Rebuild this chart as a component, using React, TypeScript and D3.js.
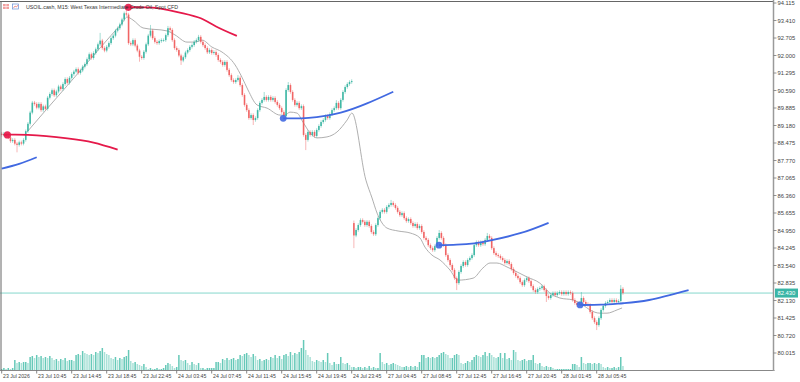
import React from "react";
import * as d3 from "d3";

const title = "USOIL.cash, M15:  West Texas Intermediate Crude Oil, Spot CFD";

const timeLabels = [
  "23 Jul 2026", "23 Jul 10:45", "23 Jul 14:45", "23 Jul 18:45", "23 Jul 22:45",
  "24 Jul 03:45", "24 Jul 07:45", "24 Jul 11:45", "24 Jul 15:45", "24 Jul 19:45",
  "24 Jul 23:45", "27 Jul 04:45", "27 Jul 08:45", "27 Jul 12:45", "27 Jul 16:45",
  "27 Jul 20:45", "28 Jul 01:45", "28 Jul 05:45",
];
const timeLabelBars = [0, 16, 32, 48, 64, 80, 96, 112, 128, 144, 160, 176, 192, 208, 224, 240, 256, 272];

const priceTicks = [
  94.115, 93.41, 92.705, 92.0, 91.295, 90.59, 89.885, 89.18, 88.475, 87.77, 87.065,
  86.36, 85.655, 84.95, 84.245, 83.54, 82.835, 82.13, 81.425, 80.72, 80.015,
];

const firstOpen = 88.85;
const gapBar = 161;
const gapOpen = 85.25;

const closes = [
  88.80, 88.85, 88.75, 88.70, 88.55, 88.60, 88.45, 88.40, 88.50, 88.45,
  88.60, 88.95, 89.25, 89.70, 90.10, 90.05, 89.90, 90.05, 89.80, 89.95,
  89.85, 90.30, 90.45, 90.60, 90.40, 90.55, 90.75, 90.65, 90.85, 91.05,
  90.90, 91.10, 91.25, 91.35, 91.45, 91.30, 91.40, 91.55, 91.65, 91.85,
  92.05, 91.90, 92.10, 92.25, 92.45, 92.60, 92.30, 92.20, 92.35, 92.50,
  92.70, 92.80, 93.00, 93.10, 93.25, 93.45, 93.70, 93.65, 92.50, 92.45,
  92.62, 92.40, 92.20, 91.95, 91.90, 92.15, 92.45, 92.80, 93.00, 92.70,
  92.55, 92.50, 92.58, 92.62, 92.62, 92.82, 93.10, 93.03, 92.62, 92.30,
  92.22, 92.00, 91.80, 91.93, 92.12, 92.22, 92.35, 92.42, 92.55, 92.62,
  92.75, 92.55, 92.42, 92.30, 92.13, 92.22, 92.10, 92.14, 92.02, 91.82,
  91.74, 91.62, 91.74, 91.42, 91.21, 91.01, 90.93, 91.01, 91.10, 90.81,
  90.41, 90.01, 89.80, 89.48, 89.60, 89.40, 89.48, 89.80, 90.09, 90.21,
  90.33, 90.21, 90.33, 90.21, 90.29, 90.13, 90.01, 89.88, 89.72, 89.56,
  90.61, 90.81, 90.53, 90.21, 90.01, 90.09, 89.88, 89.96, 88.80, 88.60,
  88.92, 88.80, 88.92, 88.76, 89.00, 89.16, 89.32, 89.40, 89.56, 89.48,
  89.64, 89.80, 89.88, 90.09, 89.88, 90.21, 90.53, 90.73, 90.85, 90.93,
  90.97, 84.75, 84.97, 85.17, 85.37, 85.30, 85.17, 85.30, 85.13, 84.89,
  84.80, 85.17, 85.45, 85.70, 85.78, 85.70, 85.90, 85.98, 86.06, 85.98,
  85.86, 85.70, 85.57, 85.65, 85.45, 85.33, 85.41, 85.25, 85.13, 85.21,
  85.05, 85.13, 84.89, 84.65, 84.57, 84.36, 84.24, 84.16, 84.32, 84.65,
  84.85, 84.65, 84.36, 83.96, 83.76, 83.56, 83.36, 83.03, 82.83, 83.28,
  83.52, 83.68, 83.56, 83.76, 83.84, 83.96, 84.36, 84.48, 84.36, 84.48,
  84.40, 84.57, 84.73, 84.65, 84.24, 84.04, 83.96, 83.92, 83.84, 83.76,
  83.64, 83.72, 83.60, 83.40, 83.24, 83.12, 83.03, 82.87, 82.75, 82.95,
  83.03, 82.91, 82.71, 82.55, 82.47, 82.59, 82.63, 82.70, 82.55, 82.31,
  82.23, 82.35, 82.43, 82.35, 82.43, 82.47, 82.39, 82.47, 82.39, 82.47,
  82.43, 82.15, 82.03, 81.95, 82.03, 82.23, 82.07, 81.99, 81.95, 81.67,
  81.42, 81.26, 81.14, 81.42, 81.75, 81.91, 82.03, 82.07, 82.15, 82.07,
  82.15, 82.07, 82.11, 82.60, 82.43,
];

const minWick = 0.07;
const wickHigh: Record<number, number> = {
  3: 88.92, 45: 92.91, 57: 93.95, 58: 93.55, 68: 93.23, 76: 93.19, 90: 92.83,
  108: 91.21, 120: 90.53, 131: 90.93, 153: 90.2, 161: 85.35, 178: 86.18,
  200: 84.97, 222: 84.85, 265: 82.47, 283: 82.75,
};
const wickLow: Record<number, number> = {
  7: 88.1, 63: 91.75, 82: 91.62, 115: 89.2, 139: 88.19, 161: 84.24, 208: 82.55,
  249: 82.07, 272: 80.94,
};

const tickVolume = [
  1, 2, 1, 2, 1, 2, 10, 7, 8, 7,
  8, 8, 7, 13, 14, 12, 15, 13, 14, 12,
  13, 12, 14, 12, 10, 11, 9, 11, 10, 12,
  9, 10, 10, 9, 15, 16, 15, 19, 17, 16,
  15, 16, 15, 18, 17, 19, 22, 18, 16, 15,
  12, 11, 13, 10, 12, 11, 13, 14, 20, 9,
  7, 8, 6, 5, 4, 6, 3, 1, 2, 1,
  1, 2, 1, 1, 2, 5, 7, 6, 4, 2,
  3, 15, 10, 9, 10, 7, 5, 8, 6, 5,
  7, 2, 2, 1, 2, 2, 2, 2, 8, 8,
  7, 11, 10, 12, 10, 11, 12, 10, 11, 15,
  14, 16, 17, 15, 13, 16, 14, 10, 11, 9,
  10, 11, 10, 13, 12, 15, 12, 14, 11, 15,
  16, 14, 18, 15, 17, 16, 18, 22, 30, 20,
  15, 13, 9, 8, 10, 9, 8, 10, 8, 17,
  7, 5, 8, 6, 6, 13, 7, 6, 7, 5,
  3, 3, 2, 3, 3, 2, 3, 2, 4, 2,
  3, 2, 2, 17, 8, 6, 7, 5, 6, 7,
  6, 5, 4, 3, 3, 4, 3, 4, 3, 4,
  3, 8, 15, 15, 12, 13, 12, 13, 12, 13,
  15, 17, 18, 16, 15, 12, 12, 15, 16, 15,
  7, 6, 7, 9, 8, 10, 13, 15, 14, 13,
  15, 18, 14, 17, 15, 13, 12, 13, 17, 12,
  17, 11, 12, 10, 20, 18, 10, 9, 10, 11,
  9, 10, 10, 15, 7, 6, 7, 4, 3, 4,
  3, 3, 2, 1, 1, 1, 1, 1, 1, 1,
  1, 6, 6, 5, 3, 13, 7, 6, 7, 7,
  6, 7, 6, 7, 6, 3, 2, 3, 2, 2,
  3, 2, 3, 13, 4,
];

// gray moving-average line: [bar, price]
const maLine: [number, number][] = [
  [11.6, 88.92], [20, 89.78], [30, 90.79], [40, 91.8], [50, 92.81], [55, 93.3],
  [57.3, 93.55], [60, 93.43], [64.6, 93.11], [75.6, 92.99], [79.2, 92.83],
  [84.7, 92.54], [88.4, 92.54], [91.6, 92.62], [96.1, 92.34], [100.7, 92.14], [106.7, 91.62],
  [109.8, 91.13], [112.6, 90.61], [116.7, 90.01], [121.3, 89.88], [127.2, 89.6], [129.5, 89.6],
  [131.8, 89.72], [135, 89.68], [137.7, 89.32], [141, 88.88], [144.1, 88.68], [148.7, 88.72],
  [153.3, 88.92], [157.9, 89.4], [160.1, 89.68], [166.5, 86.98], [169.3, 86.26], [171.6, 85.65],
  [173.9, 85.25], [176.1, 85.05], [181.2, 84.93], [186.7, 84.85], [191.2, 84.65], [193.5, 84.28],
  [196.7, 83.96], [200.4, 83.76], [204.9, 83.36], [208.6, 82.95], [215.5, 83.03], [220, 83.44],
  [223.2, 83.64], [226.4, 83.64], [231, 83.48], [235.6, 83.28], [240.1, 83.08], [246, 82.83],
  [250.6, 82.43], [255.2, 82.23], [261.2, 82.15], [265.7, 81.95], [268.9, 81.75], [273.5, 81.62],
  [276.7, 81.62], [281.3, 81.75], [283.6, 81.83],
];

const redArcs: [number, number][][] = [
  [[0.8, 88.8], [3, 88.81], [12, 88.8], [30, 88.66], [42, 88.49], [53, 88.21]],
  [[56.5, 93.94], [58, 93.95], [65, 93.94], [72, 93.9], [83, 93.7], [91, 93.5], [98, 93.17], [107.5, 92.79]],
];
const blueArcs: [number, number][][] = [
  [[0, 87.44], [8, 87.63], [16, 87.9]],
  [[128.7, 89.47], [137, 89.47], [144, 89.52], [155, 89.7], [167, 90.07], [179, 90.54]],
  [[199.9, 84.36], [208, 84.38], [216, 84.43], [223, 84.54], [237, 84.84], [250, 85.26]],
  [[264.4, 81.95], [274, 81.96], [284, 82.02], [296, 82.15], [314, 82.55]],
];
const redDots: [number, number][] = [[2.6, 88.8], [57.9, 93.94]];
const blueDots: [number, number][] = [[128.7, 89.47], [199.9, 84.36], [264.4, 81.95]];

const W = 800;
const H = 382;
const FONT = "'Liberation Sans', Arial, sans-serif";
const BULL = "#32b39e";
const BEAR = "#ef5b5b";

export default function App() {
  const n = closes.length;
  const x = d3.scaleLinear().domain([0, n - 1]).range([1.7, 1.7 + (n - 1) * 2.1875]);
  const y = d3.scaleLinear().domain([80.015, 94.115]).range([353, 3]);
  const yv = d3.scaleLinear().domain([0, 30]).range([370, 340]);

  const candles = closes.map((c, i) => {
    const o = i === 0 ? firstOpen : i === gapBar ? gapOpen : closes[i - 1];
    const top = Math.max(o, c);
    const bot = Math.min(o, c);
    const h = Math.max(top + minWick, wickHigh[i] ?? 0);
    const l = Math.min(bot - minWick, wickLow[i] ?? 1e9);
    return { i, o, c, h, l };
  });

  const lineGen = d3
    .line<[number, number]>()
    .x((d) => x(d[0]))
    .y((d) => y(d[1]))
    .curve(d3.curveMonotoneX);
  const arcGen = d3
    .line<[number, number]>()
    .x((d) => x(d[0]))
    .y((d) => y(d[1]))
    .curve(d3.curveNatural);

  const last = closes[n - 1];
  const lastY = y(last);
  const axisX = 773.5;

  return (
    <svg width={W} height={H} style={{ position: "absolute", left: 0, top: 0, background: "#fff" }}>
      <rect x={0} y={0} width={W} height={H} fill="#fff" />
      {/* volumes */}
      <g>
        {tickVolume.map((v, i) => (
          <rect
            key={"v" + i}
            x={x(i) - 0.75}
            y={yv(v)}
            width={1.5}
            height={yv(0) - yv(v)}
            fill={i > 0 && v < tickVolume[i - 1] ? "#a9e1d7" : "#66c9b8"}
          />
        ))}
      </g>
      {/* current price line */}
      <line x1={0} x2={axisX} y1={lastY} y2={lastY} stroke="#86d8cd" strokeWidth={1} />
      {/* moving average */}
      <path d={lineGen(maLine) ?? ""} fill="none" stroke="#a6a6a6" strokeWidth={0.9} />
      {/* candles */}
      <g>
        {candles.map((d) => {
          const col = d.c >= d.o ? BULL : BEAR;
          const cx = x(d.i);
          const yt = y(Math.max(d.o, d.c));
          const yb = y(Math.min(d.o, d.c));
          return (
            <g key={"c" + d.i}>
              <line x1={cx} x2={cx} y1={y(d.h)} y2={y(d.l)} stroke={col} strokeWidth={0.8} opacity={0.55} />
              <rect x={cx - 0.8} y={yt} width={1.6} height={Math.max(0.8, yb - yt)} fill={col} opacity={0.9} />
            </g>
          );
        })}
      </g>
      {/* arcs */}
      {redArcs.map((a, k) => (
        <path key={"ra" + k} d={arcGen(a) ?? ""} fill="none" stroke="#e5194a" strokeWidth={1.8} />
      ))}
      {blueArcs.map((a, k) => (
        <path key={"ba" + k} d={arcGen(a) ?? ""} fill="none" stroke="#4169e1" strokeWidth={1.8} />
      ))}
      {redDots.map((d, k) => (
        <circle key={"rd" + k} cx={x(d[0])} cy={y(d[1])} r={3.6} fill="#e5194a" opacity={0.9} />
      ))}
      {blueDots.map((d, k) => (
        <circle key={"bd" + k} cx={x(d[0])} cy={y(d[1])} r={3.4} fill="#4169e1" opacity={0.9} />
      ))}
      {/* frame */}
      <line x1={0} x2={axisX} y1={1.5} y2={1.5} stroke="#666" strokeWidth={1} />
      <line x1={1} x2={1} y1={1} y2={370.5} stroke="#666" strokeWidth={1} />
      <line x1={0} x2={axisX + 1} y1={370.5} y2={370.5} stroke="#888" strokeWidth={1} />
      <line x1={axisX} x2={axisX} y1={0} y2={371} stroke="#9a9a9a" strokeWidth={1.5} />
      {/* price axis */}
      {priceTicks.map((p) => (
        <g key={"p" + p}>
          <line x1={axisX} x2={axisX + 3} y1={y(p)} y2={y(p)} stroke="#777" strokeWidth={0.8} />
          <text x={777.5} y={y(p) + 2} fontSize={5.8} fontFamily={FONT} fill="#444">
            {p.toFixed(3)}
          </text>
        </g>
      ))}
      <rect x={775} y={lastY - 4.5} width={23} height={9} fill="#3ab5a6" />
      <text x={777.5} y={lastY + 2} fontSize={5.8} fontFamily={FONT} fill="#fff">
        {last.toFixed(3)}
      </text>
      {/* time axis */}
      {timeLabels.map((t, k) => {
        const tx = x(timeLabelBars[k]);
        return (
          <g key={"t" + k}>
            <line x1={tx} x2={tx} y1={370.5} y2={373.5} stroke="#666" strokeWidth={0.8} />
            <text x={tx + 1.3} y={377.5} fontSize={5.2} fontFamily={FONT} fill="#444">
              {t}
            </text>
          </g>
        );
      })}
      {/* title */}
      <g>
        <rect x={3} y={4} width={6} height={5} fill="#f2a0a0" />
        <line x1={3} x2={9} y1={6.5} y2={6.5} stroke="#fff" strokeWidth={0.6} />
        <line x1={6} x2={6} y1={4} y2={9} stroke="#fff" strokeWidth={0.6} />
        <rect x={12.5} y={4} width={6} height={5} fill="none" stroke="#6a8fd8" strokeWidth={0.7} />
        <polyline points="13.5,8 15,6 16.5,7 18,5" fill="none" stroke="#e05050" strokeWidth={0.6} />
      </g>
      <text x={26} y={9} fontSize={6} fontFamily={FONT} fill="#333" textLength={152} lengthAdjust="spacingAndGlyphs">
        {title}
      </text>
    </svg>
  );
}
